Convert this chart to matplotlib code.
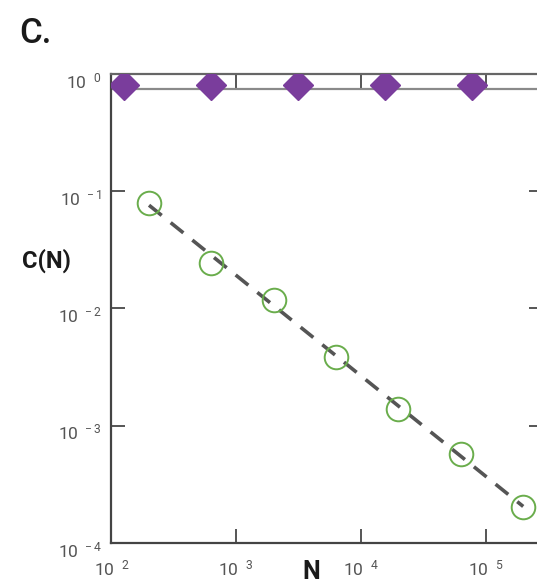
import matplotlib.pyplot as plt
from matplotlib.transforms import ScaledTranslation

plt.rcParams['font.family'] = ['Roboto', 'DejaVu Sans']
plt.rcParams['mathtext.default'] = 'regular'

# dados
N_diamante = [125, 625, 3125, 15625, 78125]
C_diamante = [0.80, 0.80, 0.80, 0.80, 0.80]
C_referencia = 0.745

N_circulo = [200, 632, 2000, 6320, 20000, 63200, 200000]
C_circulo = [0.0794, 0.0246, 0.0119, 0.00383, 0.00138, 0.000572, 0.000202]

N_ajuste = [200, 200000]
C_ajuste = [0.076, 0.000205]

xticks = [1e2, 1e3, 1e4, 1e5]
xlabels = ['10$^{\\ \\ 2}$', '10$^{\\ \\ 3}$', '10$^{\\ \\ 4}$', '10$^{\\ \\ 5}$']
yticks = [1e-4, 1e-3, 1e-2, 1e-1, 1e0]
ylabels = ['10$^{\\ -4}$', '10$^{\\ -3}$', '10$^{\\ -2}$', '10$^{\\ -1}$', '10$^{\\ \\ 0}$']

fig = plt.figure(figsize=(5.37, 5.84), dpi=100)
ax = fig.add_axes([0.2076, 0.0702, 0.8035, 0.8031])

ax.set_xscale('log')
ax.set_yscale('log')
ax.set_xlim(1e2, 2.88e5)
ax.set_ylim(1e-4, 1e0)

# linha de referencia e diamantes
ax.axhline(C_referencia, color='#8a8a8a', lw=1.6, zorder=2)
ax.plot(N_diamante, C_diamante, 'D', ms=15, color='#7a3d9c', mec='#7a3d9c', zorder=4)

# ajuste e circulos
ax.plot(N_ajuste, C_ajuste, '--', color='#555555', lw=2.6, dashes=(4.5, 3.2), zorder=3)
ax.plot(N_circulo, C_circulo, 'o', ms=17, mfc='none', mec='#6aad4c', mew=1.4, zorder=4)

ax.set_xticks(xticks)
ax.set_xticklabels(xlabels)
ax.set_yticks(yticks)
ax.set_yticklabels(ylabels)
ax.minorticks_off()
ax.tick_params(which='major', direction='in', length=10, width=1.4, color='#555555',
               labelsize=12.5, labelcolor='#555555', top=True, right=True)
ax.tick_params(axis='x', pad=11)
ax.tick_params(axis='y', pad=7)

for rotulo in ax.get_yticklabels():
    rotulo.set_transform(rotulo.get_transform() + ScaledTranslation(0, -4 / 72, fig.dpi_scale_trans))

for lado in ['left', 'bottom']:
    ax.spines[lado].set_color('#444444')
    ax.spines[lado].set_linewidth(1.6)
for lado in ['top', 'right']:
    ax.spines[lado].set_color('#666666')
    ax.spines[lado].set_linewidth(1.6)

# textos
fig.text(19 / 537, 1 - 43 / 584, 'C.', fontsize=25, fontweight='medium', color='#1a1a1a', va='baseline')
fig.text(22 / 537, 1 - 268 / 584, 'C(N)', fontsize=17, fontweight='bold', color='#1a1a1a', va='baseline')
fig.text(302 / 537, 1 - 579 / 584, 'N', fontsize=18, fontweight='bold', color='#1a1a1a', va='baseline')

plt.savefig('out.png', dpi=100)
